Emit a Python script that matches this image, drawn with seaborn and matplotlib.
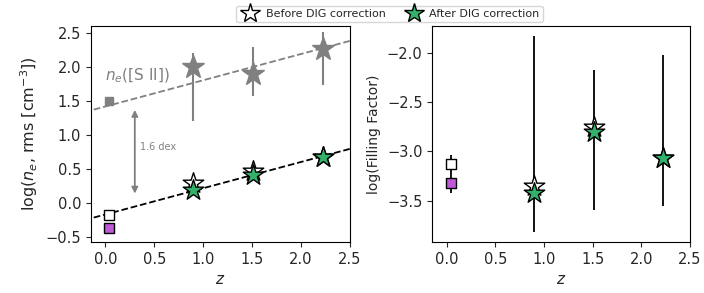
import numpy as np
import pandas as pd
import seaborn as sns
import matplotlib.pyplot as plt

# --- data ---
z_loc = [0.04]
z_hi = [0.9, 1.51, 2.22]

# left panel: electron density
ne_sii_loc = [1.5]
ne_sii_loc_lo = [0.08]
ne_sii = [2.0, 1.9, 2.27]
ne_sii_lo = [0.8, 0.32, 0.54]
ne_sii_hi = [0.2, 0.4, 0.25]

ne_before_loc = [-0.17]
ne_after_loc = [-0.36]
ne_before = [0.3, 0.47, 0.68]
ne_after = [0.2, 0.42, 0.68]

fit_slope = 0.385
fit_int_sii = 1.42
fit_int_rms = -0.165

# right panel: filling factor
ff_before_loc = [-3.13]
ff_after_loc = [-3.32]
ff_loc_top = [-3.04]
ff_loc_bot = [-3.42]
ff_before = [-3.35, -2.75, -3.07]
ff_after = [-3.42, -2.8, -3.07]
ff_top = [-1.83, -2.18, -2.02]
ff_bot = [-3.82, -3.6, -3.55]

green = '#33b06a'
purple = '#bf5ad6'
grey = 'grey'

sns.set_style('ticks')
plt.rcParams['font.family'] = ['DejaVu Sans']
plt.rcParams['xtick.labelsize'] = 10.5
plt.rcParams['ytick.labelsize'] = 10.5

fig, (ax1, ax2) = plt.subplots(1, 2, figsize=(7.04, 2.93), dpi=100)
ax1.set_position([0.129, 0.174, 0.368, 0.737])
ax2.set_position([0.614, 0.174, 0.366, 0.737])

# ---- left panel ----
xx = np.array([-0.12, 2.5])
ax1.plot(xx, fit_int_sii + fit_slope * xx, ls='--', color=grey, lw=1.3, zorder=1)
ax1.plot(xx, fit_int_rms + fit_slope * xx, ls='--', color='k', lw=1.3, zorder=1)

ax1.errorbar(z_loc, ne_sii_loc, yerr=[ne_sii_loc_lo, [0]], fmt='s', color=grey, ms=6, zorder=2)
ax1.errorbar(z_hi, ne_sii, yerr=[ne_sii_lo, ne_sii_hi], fmt='*', color=grey, ms=17, zorder=2)

sns.scatterplot(x=z_loc, y=ne_before_loc, marker='s', s=45, color='white', edgecolor='k', linewidth=1, ax=ax1, zorder=3)
sns.scatterplot(x=z_loc, y=ne_after_loc, marker='s', s=45, color=purple, edgecolor='k', linewidth=1, ax=ax1, zorder=3)
sns.scatterplot(x=z_hi, y=ne_before, marker='*', s=240, color='white', edgecolor='k', linewidth=1, ax=ax1, zorder=3)
sns.scatterplot(x=z_hi, y=ne_after, marker='*', s=240, color=green, edgecolor='k', linewidth=1, ax=ax1, zorder=4)

ax1.annotate('', xy=(0.3, 0.1), xytext=(0.3, 1.41),
             arrowprops=dict(arrowstyle='<|-|>', color=grey, lw=1.3, mutation_scale=9))
ax1.text(0.35, 0.82, '1.6 dex', color=grey, fontsize=7, va='center')
ax1.text(0.0, 1.87, r'$n_e$([S II])', color=grey, fontsize=11, va='center')

ax1.set_xlim(-0.15, 2.5)
ax1.set_ylim(-0.57, 2.6)
ax1.set_xticks([0.0, 0.5, 1.0, 1.5, 2.0, 2.5])
ax1.set_yticks([-0.5, 0.0, 0.5, 1.0, 1.5, 2.0, 2.5])
ax1.set_xlabel('$z$', fontsize=11)
ax1.set_ylabel(r'log($n_e$, rms [cm$^{-3}$])', fontsize=11.5)

# ---- right panel ----
ax2.vlines(z_loc, ff_loc_bot, ff_loc_top, color='k', lw=1.3, zorder=1)
ax2.vlines(z_hi, ff_bot, ff_top, color='k', lw=1.3, zorder=1)
sns.scatterplot(x=z_loc, y=ff_before_loc, marker='s', s=45, color='white', edgecolor='k', linewidth=1, ax=ax2, zorder=3)
sns.scatterplot(x=z_loc, y=ff_after_loc, marker='s', s=45, color=purple, edgecolor='k', linewidth=1, ax=ax2, zorder=3)
sns.scatterplot(x=z_hi, y=ff_before, marker='*', s=240, color='white', edgecolor='k', linewidth=1, ax=ax2, zorder=3)
sns.scatterplot(x=z_hi, y=ff_after, marker='*', s=240, color=green, edgecolor='k', linewidth=1, ax=ax2, zorder=4)

ax2.set_xlim(-0.15, 2.5)
ax2.set_ylim(-3.92, -1.73)
ax2.set_xticks([0.0, 0.5, 1.0, 1.5, 2.0, 2.5])
ax2.set_yticks([-3.5, -3.0, -2.5, -2.0])
ax2.set_xlabel('$z$', fontsize=11)
ax2.set_ylabel('log(Filling Factor)', fontsize=10)

for ax in (ax1, ax2):
    for sp in ax.spines.values():
        sp.set_visible(True)
        sp.set_color('k')

# legend on top
h1 = plt.Line2D([], [], marker='*', ls='', ms=15, mfc='white', mec='k', mew=1)
h2 = plt.Line2D([], [], marker='*', ls='', ms=15, mfc=green, mec='k', mew=1)
fig.legend([h1, h2], ['Before DIG correction', 'After DIG correction'], ncol=2,
           loc='upper center', bbox_to_anchor=(0.553, 1.0), fontsize=8,
           frameon=True, fancybox=True, handletextpad=0.4, columnspacing=1.5,
           borderpad=0.3)

fig.savefig('out.png', dpi=100)
